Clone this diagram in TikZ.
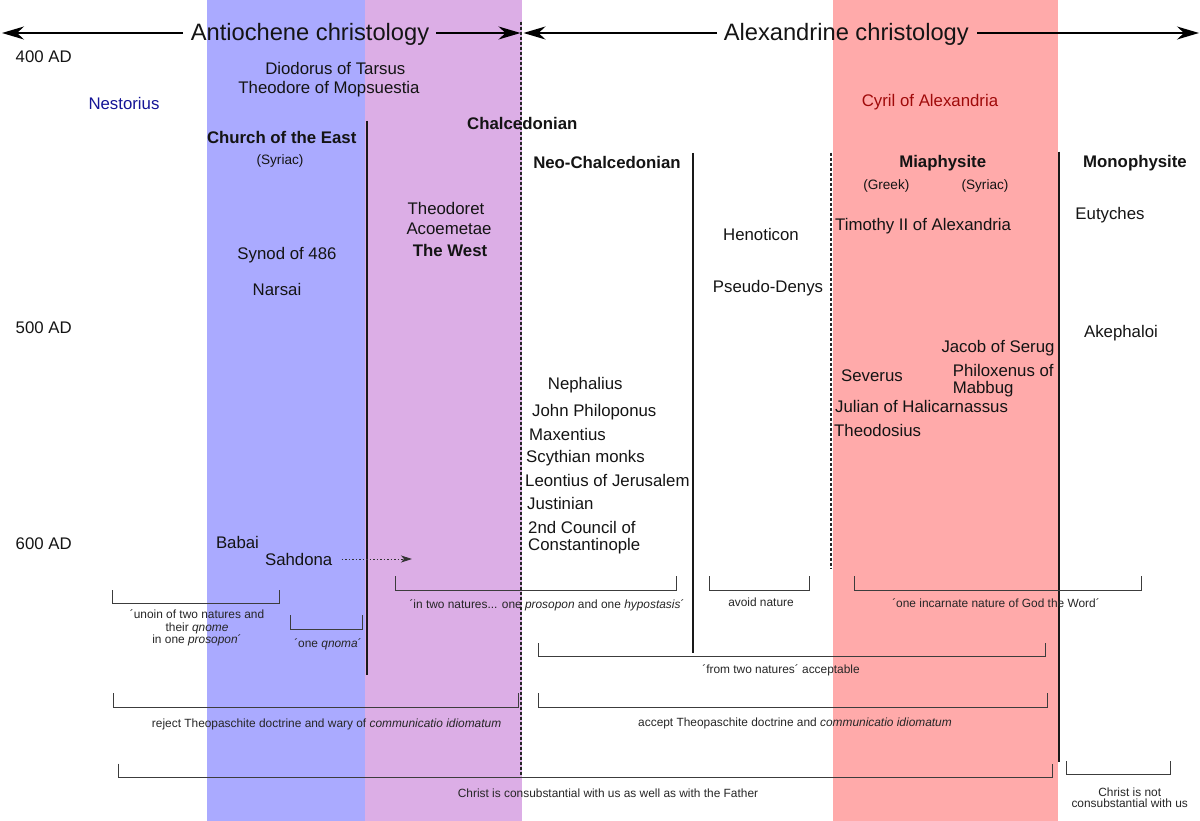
\documentclass[tikz,border=0pt]{standalone}
\usepackage{fontspec}
\setmainfont{Liberation Sans}
\usetikzlibrary{arrows.meta}
\definecolor{bandblue}{RGB}{170,170,255}
\definecolor{bandpurple}{RGB}{220,174,230}
\definecolor{bandred}{RGB}{255,170,170}
\definecolor{nestblue}{RGB}{20,20,150}
\definecolor{cyrred}{RGB}{160,10,10}
\definecolor{brk}{RGB}{60,60,60}
\definecolor{txt}{RGB}{20,20,20}
\begin{document}
\begin{tikzpicture}[x=1pt,y=-1pt,
  nm/.style={font=\fontsize{16.8}{20}\selectfont, inner sep=0pt, anchor=base, text=txt},
  nmw/.style={nm, anchor=base west},
  hd/.style={font=\fontsize{16.8}{20}\selectfont\bfseries, inner sep=0pt, anchor=base, text=txt},
  sm/.style={font=\fontsize{11.9}{14}\selectfont, inner sep=0pt, anchor=base, text=black!85},
  lang/.style={font=\fontsize{13.6}{16}\selectfont, inner sep=0pt, anchor=base, text=txt},
  ttl/.style={font=\fontsize{23.7}{28}\selectfont, inner sep=0pt, anchor=base, text=txt},
  brace/.style={draw=brk, line width=1pt},
  vline/.style={draw=black!90, line width=1.8pt},
  dline/.style={draw=black!85, line width=1.4pt, dash pattern=on 3pt off 2pt},
  hdarrow/.style={draw=black, line width=1.3pt, -{Stealth[length=22pt,width=13pt,inset=7pt]}},
]
\useasboundingbox (0,0) rectangle (1200,821);
% bands
\fill[bandblue] (207,0) rectangle (365,821);
\fill[bandpurple] (365,0) rectangle (521.5,821);
\fill[bandred] (833,0) rectangle (1058,821);

% header
\node[ttl] (anti) at (310,40.2) {Antiochene christology};
\node[ttl] (alex) at (846.3,40.2) {Alexandrine christology};
\coordinate (aL) at (2,33);
\coordinate (aR) at (520.5,33);
\coordinate (xL) at (523.5,33);
\coordinate (xR) at (1199,33);
\coordinate (antiW) at (183,33);
\coordinate (antiE) at (436,33);
\coordinate (alexW) at (717,33);
\coordinate (alexE) at (977,33);
\draw[hdarrow] (antiW) -- (aL);
\draw[hdarrow] (antiE) -- (aR);
\draw[hdarrow] (alexW) -- (xL);
\draw[hdarrow] (alexE) -- (xR);

% vertical dividers
\coordinate (d0t) at (521,21.7);  \coordinate (d0b) at (521,778);
\coordinate (v1t) at (367.3,121); \coordinate (v1b) at (367.3,675);
\coordinate (v2t) at (692.7,153); \coordinate (v2b) at (692.7,653);
\coordinate (d1t) at (830.8,152.7); \coordinate (d1b) at (830.8,569);
\coordinate (v3t) at (1059,151.7); \coordinate (v3b) at (1059,762);
\draw[dline] (d0t) -- (d0b);
\draw[vline] (v1t) -- (v1b);
\draw[vline] (v2t) -- (v2b);
\draw[dline] (d1t) -- (d1b);
\draw[vline] (v3t) -- (v3b);

% dates
\node[nmw] (d400) at (15.5,63) {400 AD};
\node[nmw] (d500) at (15.5,334) {500 AD};
\node[nmw] (d600) at (15.5,549) {600 AD};

% Antiochene side
\node[nm, text=nestblue] (nest) at (124,110) {Nestorius};
\node[nm] (diod) at (335.3,75) {Diodorus of Tarsus};
\node[nm] (theo) at (329,94) {Theodore of Mopsuestia};
\node[hd] (coe) at (281.7,144) {Church of the East};
\node[lang] (syr1) at (280,165) {(Syriac)};
\node[hd] (chal) at (522.3,130) {Chalcedonian};
\node[nm] (theodoret) at (446,214.3) {Theodoret};
\node[nm] (acoe) at (449,235) {Acoemetae};
\node[hd] (west) at (450,256.7) {The West};
\node[nm] (synod) at (287,260) {Synod of 486};
\node[nm] (narsai) at (277,295) {Narsai};
\node[nm] (babai) at (237.5,548.7) {Babai};
\node[nm] (sahd) at (298.7,565) {Sahdona};
\coordinate (sahdA) at (341.7,559);
\coordinate (sahdB) at (412,559);
\draw[black!80, line width=0.9pt, dash pattern=on 1.5pt off 2pt, -{Stealth[length=11pt,width=7pt,inset=3pt]}] (sahdA) -- (sahdB);

% Neo-Chalcedonian
\node[hd] (neo) at (607,169) {Neo-Chalcedonian};
\node[nmw] (neph) at (547.7,389) {Nephalius};
\node[nmw] (john) at (532,416) {John Philoponus};
\node[nmw] (maxe) at (529,440) {Maxentius};
\node[nmw] (scyt) at (526,462.7) {Scythian monks};
\node[nmw] (leon) at (525,486) {Leontius of Jerusalem};
\node[nmw] (just) at (527,509) {Justinian};
\node[nmw] (coun1) at (528,533) {2nd Council of};
\node[nmw] (coun2) at (528,550) {Constantinople};

% middle
\node[nm] (heno) at (761,241) {Henoticon};
\node[nm] (pseu) at (768,292.7) {Pseudo-Denys};

% Miaphysite
\node[nm, text=cyrred] (cyril) at (930,106.7) {Cyril of Alexandria};
\node[hd] (mia) at (942.7,167.7) {Miaphysite};
\node[lang] (greek) at (886.3,189.8) {(Greek)};
\node[lang] (syr2) at (985,189.8) {(Syriac)};
\node[nmw] (timo) at (835,231) {Timothy II of Alexandria};
\node[nm] (jaco) at (998,352.7) {Jacob of Serug};
\node[nm] (seve) at (872,381) {Severus};
\node[nmw] (phil1) at (952.6,376) {Philoxenus of};
\node[nmw] (phil2) at (952.6,393) {Mabbug};
\node[nmw] (juli) at (835,412) {Julian of Halicarnassus};
\node[nmw] (theod) at (834,436) {Theodosius};

% Monophysite
\node[hd] (mono) at (1135,167.7) {Monophysite};
\node[nm] (euty) at (1110,220) {Eutyches};
\node[nm] (akep) at (1121,337.7) {Akephaloi};

% brackets
\draw[brace] (112.5,590) |- (279,603) -- (279,590);
\node[sm] (b1a) at (197,618.3) {´unoin of two natures and};
\node[sm] (b1b) at (197,631.3) {their \textit{qnome}};
\node[sm] (b1c) at (197,643.3) {in one \textit{prosopon}´};

\draw[brace] (290.7,615) |- (362,629) -- (362,615);
\node[sm] (b2) at (328,647.3) {´one \textit{qnoma}´};

\draw[brace] (395,576) |- (676,590) -- (676,576);
\node[sm] (b3) at (547,608.3) {´in two natures... one \textit{prosopon} and one \textit{hypostasis}´};

\draw[brace] (709.5,576) |- (809.7,590) -- (809.7,576);
\node[sm] (b4) at (761,606.3) {avoid nature};

\draw[brace] (854,576) |- (1141,590) -- (1141,576);
\node[sm] (b5) at (996,607.3) {´one incarnate nature of God the Word´};

\draw[brace] (538,643) |- (1045.6,656.5) -- (1045.6,643);
\node[sm] (b6) at (781,673.3) {´from two natures´ acceptable};

\draw[brace] (113,693) |- (518.6,707) -- (518.6,693);
\node[sm] (b7) at (326.6,727) {reject Theopaschite doctrine and wary of \textit{communicatio idiomatum}};

\draw[brace] (538,693) |- (1047.7,707) -- (1047.7,693);
\node[sm] (b8) at (795,726.3) {accept Theopaschite doctrine and \textit{communicatio idiomatum}};

\draw[brace] (118,763.5) |- (1052.5,777) -- (1052.5,763.5);
\node[sm] (b9) at (608,797.3) {Christ is consubstantial with us as well as with the Father};

\draw[brace] (1066,761) |- (1170.5,774) -- (1170.5,761);
\node[sm] (b10a) at (1129.7,796) {Christ is not};
\node[sm] (b10b) at (1129.7,807.6) {consubstantial with us};
\end{tikzpicture}
\end{document}
